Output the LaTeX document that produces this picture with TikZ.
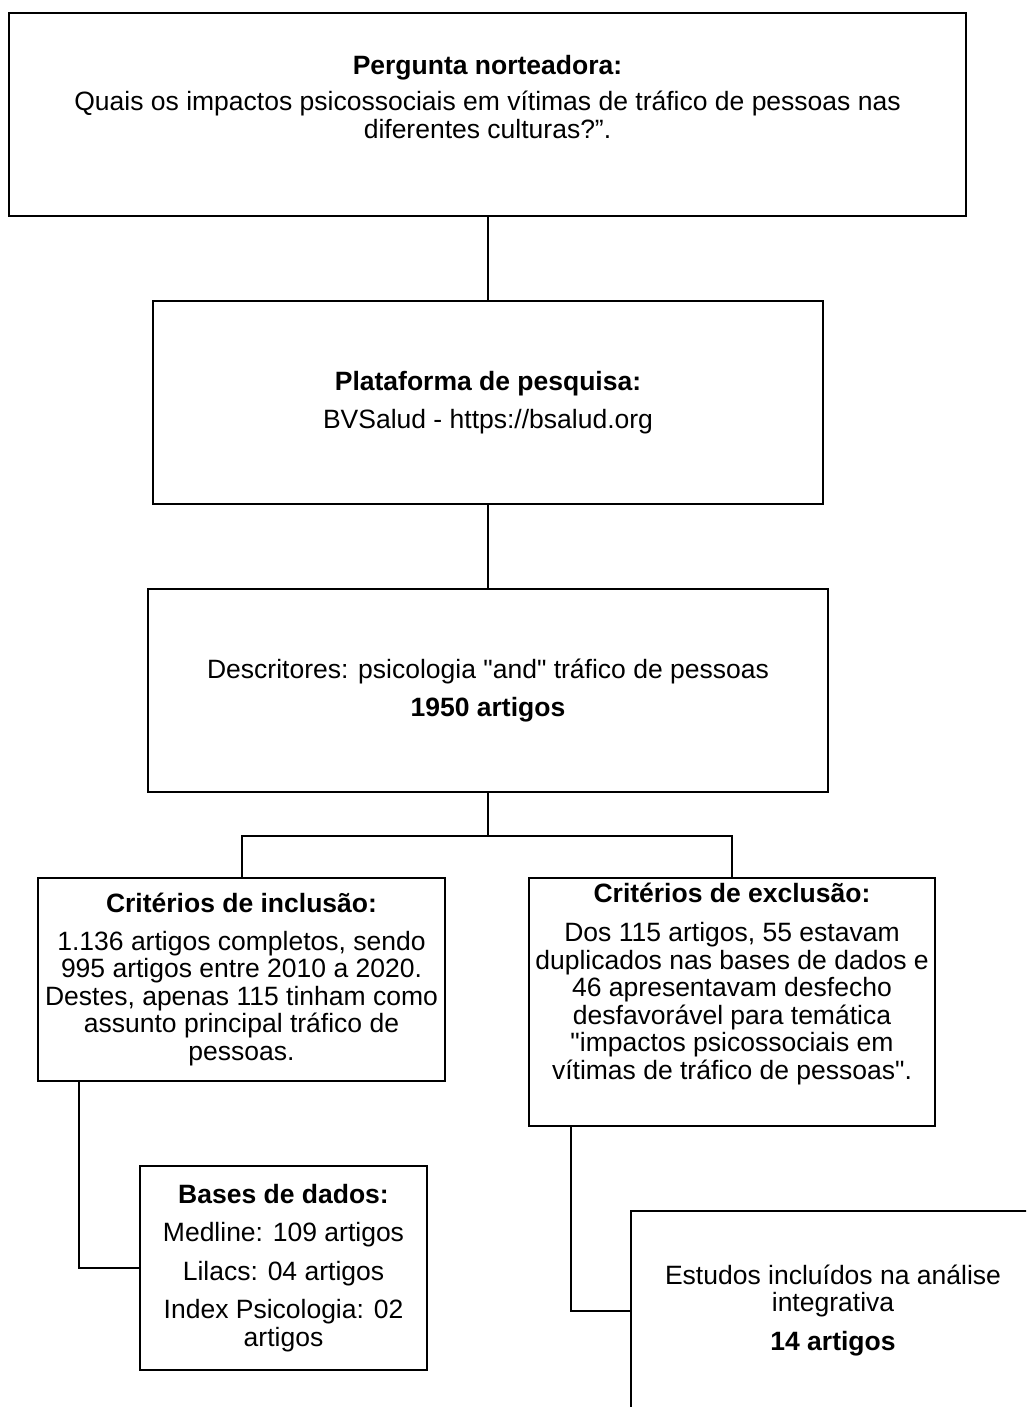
\documentclass[tikz,border=0pt]{standalone}
\usepackage{fontspec}
\setmainfont{Liberation Sans}
\usetikzlibrary{positioning}

\begin{document}
\begin{tikzpicture}[
  x=1pt, y=-1pt,
  font=\fontsize{26.5}{27.5}\selectfont,
  bx/.style={draw, line width=2.4pt, align=center, inner sep=2pt},
  ln/.style={line width=2pt}
]
\useasboundingbox (0,0) rectangle (1026,1407);
\clip (0,0) rectangle (1026,1407);
\node[bx, minimum width=957pt, minimum height=203pt] (q) at (487.5,114.5)
  {\textbf{Pergunta norteadora:}\\[9pt]Quais os impactos psicossociais em vítimas de tráfico de pessoas nas\\diferentes culturas?”.\\[8pt]\mbox{}};
\node[bx, minimum width=670pt, minimum height=203pt] (pl) at (488,402.5)
  {\textbf{Plataforma de pesquisa:}\\[10pt]BVSalud - https://bsalud.org};
\node[bx, minimum width=680pt, minimum height=203pt] (de) at (488,690.5)
  {Descritores: psicologia \textquotedbl and\textquotedbl{} tráfico de pessoas\\[10pt]\textbf{1950 artigos}};
\node[bx, minimum width=407pt, minimum height=203pt] (inc) at (241.5,979.5)
  {\textbf{Critérios de inclusão:}\\[10pt]1.136 artigos completos, sendo\\995 artigos entre 2010 a 2020.\\Destes, apenas 115 tinham como\\assunto principal tráfico de\\pessoas.};
\node[bx, minimum width=406pt, minimum height=248pt] (exc) at (732,1002)
  {\textbf{Critérios de exclusão:}\\[12pt]Dos 115 artigos, 55 estavam\\duplicados nas bases de dados e\\46 apresentavam desfecho\\desfavorável para temática\\\textquotedbl impactos psicossociais em\\vítimas de tráfico de pessoas\textquotedbl.\\[14pt]\mbox{}};
\node[bx, minimum width=287pt, minimum height=204pt] (bd) at (283.5,1268)
  {\textbf{Bases de dados:}\\[11pt]Medline: 109 artigos\\[11pt]Lilacs: 04 artigos\\[11pt]Index Psicologia: 02\\artigos};
\node[bx, minimum width=404pt, minimum height=199pt] (res) at (833,1310.5)
  {Estudos incluídos na análise\\integrativa\\[11pt]\textbf{14 artigos}};
\draw[ln] (q.south) -- (q.south |- pl.north);
\draw[ln] (pl.south) -- (pl.south |- de.north);
\draw[ln] (de.south) -- ++(0,43) coordinate (fk);
\draw[ln] (inc.north) |- (fk) -| (exc.north);
\draw[ln] ([xshift=-162.5pt]inc.south) |- (bd.west);
\draw[ln] ([xshift=-161pt]exc.south) |- (res.west);
\end{tikzpicture}
\end{document}
